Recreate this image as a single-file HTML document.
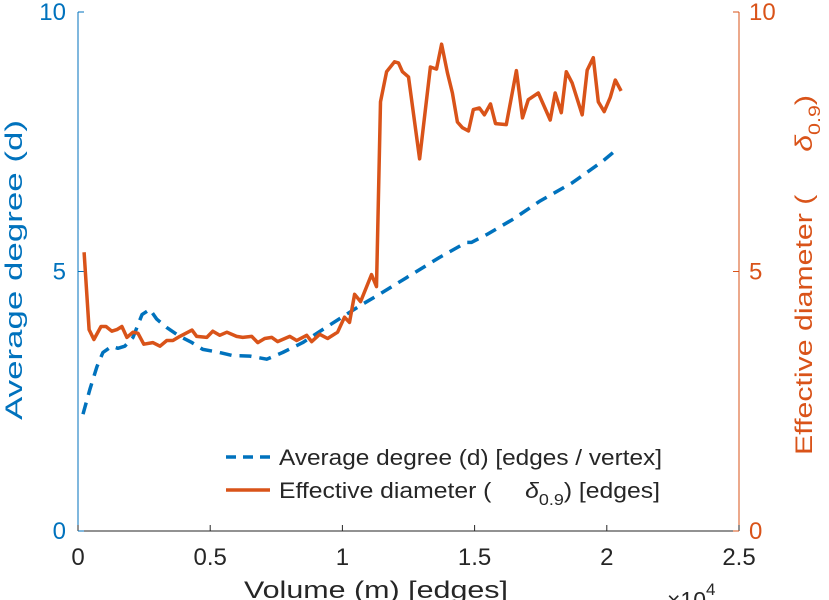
<!DOCTYPE html>
<html><head><meta charset="utf-8"><style>
body{margin:0;background:#fff;}
svg{display:block;font-family:"Liberation Sans",sans-serif;}
</style></head><body>
<svg id="chart" width="829" height="600" viewBox="0 0 829 600">
<g id="axes"></g>
<g id="series"></g>
<g font-size="22" fill="#262626">
  <line x1="226" y1="457" x2="270" y2="457" stroke="#0072BD" stroke-width="3.5" stroke-dasharray="10,7"/>
  <text x="279" y="465" textLength="383" lengthAdjust="spacingAndGlyphs">Average degree (d) [edges / vertex]</text>
  <line x1="226" y1="490" x2="270" y2="490" stroke="#D95319" stroke-width="3.5"/>
  <text x="279" y="498" textLength="381" lengthAdjust="spacingAndGlyphs">Effective diameter (<tspan dx="30" font-style="italic">δ</tspan><tspan font-size="16" dy="7">0.9</tspan><tspan dy="-7">) [edges]</tspan></text>
</g>
<text x="244" y="598" font-size="24" fill="#262626" textLength="264" lengthAdjust="spacingAndGlyphs">Volume (m) [edges]</text>
<text x="667" y="608" font-size="23" fill="#262626">×10<tspan font-size="17" dy="-13">4</tspan></text>
<text transform="translate(22,420) rotate(-90)" font-size="24" fill="#0072BD" textLength="300" lengthAdjust="spacingAndGlyphs">Average degree (d)</text>
<text transform="translate(812,455) rotate(-90)" font-size="24" fill="#D95319" textLength="360" lengthAdjust="spacingAndGlyphs">Effective diameter (<tspan dx="34" font-style="italic">δ</tspan><tspan font-size="17" dy="8">0.9</tspan><tspan dy="-8">)</tspan></text>
</svg>
<script>
const degX=[0.019,0.045,0.072,0.094,0.128,0.151,0.177,0.208,0.242,0.272,0.298,0.336,0.385,0.431,0.472,0.536,0.585,0.650,0.714,0.774,0.850,0.925,1.001,1.076,1.140,1.242,1.367,1.469,1.488,1.545,1.643,1.745,1.869,1.983,2.028];
const degY=[2.25,2.73,3.17,3.44,3.56,3.52,3.56,3.73,4.17,4.27,4.08,3.92,3.75,3.63,3.50,3.44,3.38,3.37,3.31,3.44,3.63,3.88,4.13,4.37,4.56,4.88,5.27,5.56,5.56,5.71,6.00,6.35,6.71,7.12,7.31];
const diaX=[0.023,0.042,0.060,0.087,0.106,0.128,0.147,0.166,0.185,0.208,0.227,0.249,0.283,0.310,0.336,0.359,0.385,0.431,0.449,0.487,0.510,0.536,0.563,0.600,0.623,0.657,0.680,0.706,0.733,0.755,0.801,0.827,0.865,0.884,0.914,0.944,0.982,1.008,1.027,1.046,1.069,1.110,1.129,1.144,1.167,1.197,1.212,1.227,1.250,1.292,1.333,1.356,1.375,1.397,1.416,1.435,1.454,1.477,1.495,1.518,1.537,1.560,1.579,1.620,1.658,1.681,1.703,1.741,1.786,1.805,1.828,1.847,1.869,1.907,1.926,1.949,1.968,1.990,2.013,2.032,2.054];
const diaY=[5.37,3.88,3.69,3.94,3.94,3.85,3.88,3.94,3.73,3.83,3.81,3.60,3.63,3.56,3.67,3.67,3.75,3.87,3.75,3.73,3.85,3.77,3.83,3.75,3.73,3.75,3.63,3.71,3.73,3.65,3.75,3.67,3.77,3.65,3.79,3.71,3.83,4.12,4.02,4.56,4.42,4.94,4.71,8.27,8.85,9.04,9.02,8.85,8.75,7.17,8.94,8.90,9.38,8.83,8.44,7.88,7.77,7.71,8.12,8.15,8.02,8.23,7.85,7.83,8.87,7.96,8.31,8.44,7.92,8.44,8.06,8.85,8.63,8.02,8.88,9.12,8.27,8.08,8.35,8.69,8.48];
const xTicks=[0,0.5,1,1.5,2,2.5];
const xTickLabels=["0","0.5","1","1.5","2","2.5"];
const yTicks=[0,5,10];
const yTickLabels=["0","5","10"];

const L=78,R=739,T=12,B=531;
const sx=v=>L+(v-0)/2.5*(R-L);
const sy=v=>B-(v-0)/10*(B-T);
const NS="http://www.w3.org/2000/svg";
function mk(tag,attrs,parent){const e=document.createElementNS(NS,tag);for(const k in attrs)e.setAttribute(k,attrs[k]);parent.appendChild(e);return e;}
const ax=document.getElementById('axes');
let e;
e=mk('line',{x1:L,y1:B,x2:R,y2:B,stroke:'#262626','stroke-width':1},ax);


e=mk('line',{x1:L,y1:T,x2:L,y2:B,stroke:'#0072BD','stroke-width':1},ax);


e=mk('line',{x1:R,y1:T,x2:R,y2:B,stroke:'#D95319','stroke-width':1},ax);


xTicks.forEach((t,i)=>{
  const x=sx(t);
  let l=mk('line',{x1:x,y1:B,x2:x,y2:B-6,stroke:'#262626'},ax);
  
  
  let tx=mk('text',{x:x,y:B+34,'font-size':24,fill:'#262626','text-anchor':'middle'},ax);
  tx.textContent=xTickLabels[i];
  
  
});
yTicks.forEach((t,i)=>{
  const y=sy(t);
  let l=mk('line',{x1:L,y1:y,x2:L+6,y2:y,stroke:'#0072BD'},ax);
  
  
  let tx=mk('text',{x:L-12,y:y+8,'font-size':24,fill:'#0072BD','text-anchor':'end'},ax);
  tx.textContent=yTickLabels[i];
  
  
  let l2=mk('line',{x1:R,y1:y,x2:R-6,y2:y,stroke:'#D95319'},ax);
  
  
  let tx2=mk('text',{x:R+10,y:y+8,'font-size':24,fill:'#D95319'},ax);
  tx2.textContent=yTickLabels[i];
  
  
});
const sg=document.getElementById('series');
const dp=degX.map((x,i)=>sx(x).toFixed(1)+','+sy(degY[i]).toFixed(1)).join(' ');
const p1=mk('polyline',{points:dp,fill:'none',stroke:'#0072BD','stroke-width':3.5,'stroke-dasharray':'12,8','stroke-linejoin':'round'},sg);


const op=diaX.map((x,i)=>sx(x).toFixed(1)+','+sy(diaY[i]).toFixed(1)).join(' ');
const p2=mk('polyline',{points:op,fill:'none',stroke:'#D95319','stroke-width':3.5,'stroke-linejoin':'round'},sg);


</script>
</body></html>
